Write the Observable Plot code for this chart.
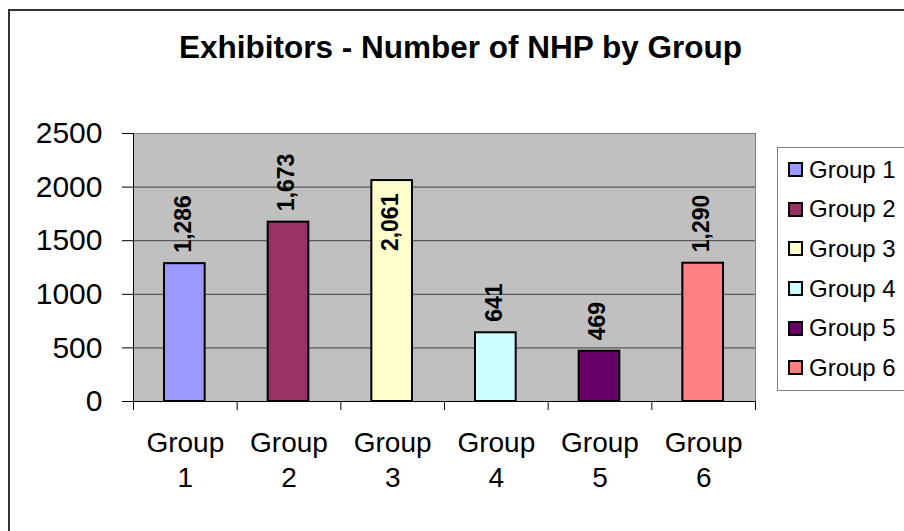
<!DOCTYPE html>
<html>
<head>
<meta charset="utf-8">
<script src="https://cdn.jsdelivr.net/npm/d3@7"></script>
<script src="https://cdn.jsdelivr.net/npm/@observablehq/plot@0.6"></script>
<style>
html, body { margin: 0; padding: 0; background: #fff; overflow: hidden; }
#wrap { position: relative; width: 904px; height: 531px; overflow: hidden; font-family: "Liberation Sans", Arial, sans-serif; }
#chart { position: absolute; left: 0; top: 0; }
#border { position: absolute; left: 8px; top: 9px; width: 1000px; height: 1000px; border-left: 2px solid #333; border-top: 2px solid #333; }
#title { position: absolute; left: 0; top: 32px; width: 921px; text-align: center; font-size: 31.5px; font-weight: bold; line-height: 31.5px; color: #000; }
#legend { position: absolute; left: 777px; top: 147px; width: 150px; height: 240px; border: 1px solid #808080; background: #fff; padding-top: 2px; box-sizing: content-box; }
.item { height: 39.6px; display: flex; align-items: center; font-size: 24px; color: #000; }
.sw { width: 15px; height: 15px; box-sizing: border-box; border: 2px solid #000; margin-left: 10px; margin-right: 6px; }
</style>
</head>
<body>
<div id="wrap">
  <div id="chart"></div>
  <div id="border"></div>
  <div id="title"></div>
  <div id="legend"></div>
</div>
<script>
const titleText = "Exhibitors - Number of NHP by Group";
const groups = ["Group 1", "Group 2", "Group 3", "Group 4", "Group 5", "Group 6"];
const counts = [1286, 1673, 2061, 641, 469, 1290];
const colors = ["#9999FF", "#993366", "#FFFFCC", "#CCFFFF", "#660066", "#FF8080"];
const yTicks = [0, 500, 1000, 1500, 2000, 2500];

const data = groups.map((g, i) => ({i, group: g, value: counts[i]}));
const fmt = d3.format(",");
const yMax = yTicks[yTicks.length - 1];
const labelRoom = 650; // value units needed above a bar for its label
const font = '"Liberation Sans", Arial, sans-serif';

const chart = Plot.plot({
  width: 904,
  height: 531,
  marginLeft: 133,
  marginRight: 149,
  marginTop: 133,
  marginBottom: 130,
  style: {fontFamily: font, background: "transparent", color: "#000", overflow: "visible"},
  x: {type: "linear", domain: [0, groups.length], axis: null, label: null},
  y: {domain: [0, yMax], axis: null, label: null},
  color: {domain: groups, range: colors},
  marks: [
    Plot.frame({fill: "#C0C0C0"}),
    Plot.ruleY(yTicks.filter(v => v > 0 && v < yMax), {stroke: "#404040", strokeWidth: 1}),
    Plot.frame({stroke: "#808080"}),
    Plot.rectY(data, {x1: "i", x2: d => d.i + 1, y: "value", fill: "group", stroke: "#000", strokeWidth: 2, insetLeft: 31, insetRight: 32}),
    Plot.ruleX([0], {stroke: "#000"}),
    Plot.ruleY([0], {stroke: "#000"}),
    Plot.axisY({ticks: yTicks, tickSize: 11, tickPadding: 20, fontSize: 30, tickFormat: d => String(d), label: null}),
    Plot.axisX({ticks: d3.range(groups.length + 1), tickSize: 9, tickFormat: () => "", label: null}),
    Plot.text(data, {x: d => d.i + 0.5, frameAnchor: "bottom", text: d => d.group.replace(" ", "\n"), lineAnchor: "top", dy: 26, fontSize: 28, lineHeight: 1.25}),
    Plot.text(data.filter(d => d.value + labelRoom <= yMax), {x: d => d.i + 0.5, y: "value", text: d => fmt(d.value), rotate: -90, textAnchor: "start", dy: -11, dx: -2, fontSize: 23, fontWeight: "bold"}),
    Plot.text(data.filter(d => d.value + labelRoom > yMax), {x: d => d.i + 0.5, y: "value", text: d => fmt(d.value), rotate: -90, textAnchor: "end", dy: 13, dx: -2, fontSize: 23, fontWeight: "bold"})
  ]
});
document.getElementById("chart").appendChild(chart);
document.getElementById("title").textContent = titleText;

const legend = document.getElementById("legend");
groups.forEach((g, i) => {
  const item = document.createElement("div");
  item.className = "item";
  const sw = document.createElement("span");
  sw.className = "sw";
  sw.style.background = colors[i];
  const label = document.createElement("span");
  label.textContent = g;
  item.appendChild(sw);
  item.appendChild(label);
  legend.appendChild(item);
});
</script>
</body>
</html>
